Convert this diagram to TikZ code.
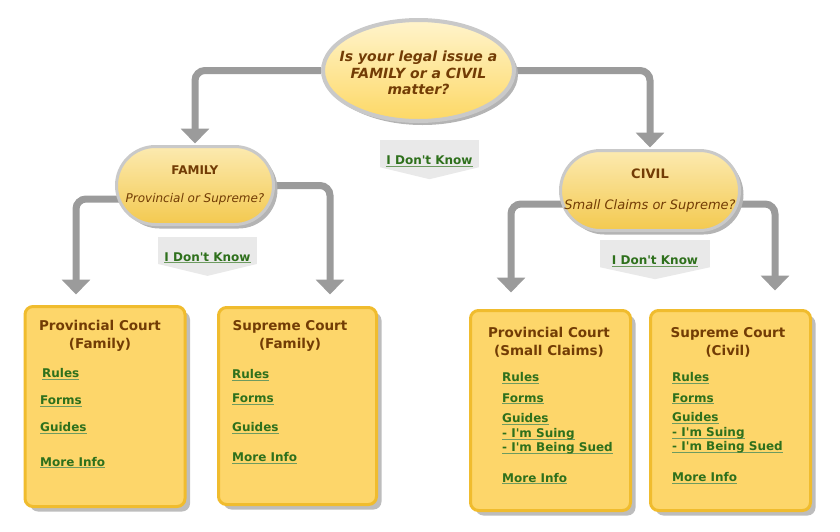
\documentclass[tikz,border=0pt]{standalone}
\usepackage{fontspec}
\setmainfont{DejaVu Sans}
\usetikzlibrary{shapes.geometric,shadows,arrows.meta,backgrounds}

\definecolor{flowgray}{HTML}{9B9B9B}
\definecolor{ringgray}{HTML}{C9C9C9}
\definecolor{shadegray}{HTML}{B4B4B4}
\definecolor{ellTop}{HTML}{FFF4CC}
\definecolor{ellBot}{HTML}{FDD865}
\definecolor{pillTop}{HTML}{FCEAB0}
\definecolor{pillBot}{HTML}{F3C94F}
\definecolor{boxFill}{HTML}{FDD66A}
\definecolor{boxLine}{HTML}{F0BC2E}
\definecolor{boxShadow}{HTML}{BDBDBD}
\definecolor{titleBrown}{HTML}{723C05}
\definecolor{linkGreen}{HTML}{2E701C}
\definecolor{dkFill}{HTML}{E9E9E9}

\newsavebox\lnkbox
\newcommand\lnk[1]{\sbox\lnkbox{#1}\rlap{\color{linkGreen!70!white}\rule[-2.3pt]{\wd\lnkbox}{1.2pt}}\usebox\lnkbox}

\begin{document}
\begin{tikzpicture}[x=1pt, y=-1pt,
    ask/.style={ellipse, draw=ringgray, line width=4pt, top color=ellTop, bottom color=ellBot,
      inner sep=0pt, minimum width=191pt, minimum height=101pt,
      drop shadow={shadow xshift=4pt, shadow yshift=-4pt, opacity=1, fill=shadegray}},
    question/.style={align=center, inner sep=0pt, text=titleBrown,
      font=\fontsize{14}{16.5}\selectfont\bfseries\itshape},
    pill/.style={rectangle, draw=ringgray, line width=3pt, top color=pillTop, bottom color=pillBot,
      inner sep=0pt, align=center, text=titleBrown,
      drop shadow={shadow xshift=4pt, shadow yshift=-4pt, opacity=1, fill=shadegray}},
    court/.style={rectangle, rounded corners=8pt, draw=boxLine, line width=3pt, fill=boxFill,
      minimum width=160pt, minimum height=200pt,
      drop shadow={shadow xshift=5pt, shadow yshift=-5pt, opacity=1, fill=boxShadow}},
    title/.style={align=center, inner sep=0pt, text=titleBrown, font=\fontsize{13.5}{18}\selectfont\bfseries},
    link/.style={anchor=base west, inner sep=0pt, text=linkGreen, font=\fontsize{12}{14}\selectfont\bfseries},
    dunno/.style={fill=dkFill, inner ysep=0pt, minimum width=99pt, minimum height=27pt,
      text height=24.4pt, text depth=2.6pt, text=linkGreen, font=\fontsize{12}{14}\selectfont\bfseries},
    flow/.style={draw=flowgray, line width=7pt, rounded corners=10pt, -{Triangle[width=28pt, length=15pt]}}
  ]
  \useasboundingbox (0,0) rectangle (840,531);

  \node[ask] (ask) at (418.5,70.5) {};
  \node[question] (ask-q) at (418.5,73.2) {Is your legal issue a\\FAMILY or a CIVIL\\matter?};
  \node[pill, rounded corners=39pt, minimum width=157pt, minimum height=78pt, font=\fontsize{12}{14}\selectfont] (family) at (195,185.5)
    {\textbf{FAMILY}\\[14pt]\textit{Provincial or Supreme?}};
  \node[pill, rounded corners=40pt, minimum width=179pt, minimum height=80pt, font=\fontsize{13}{15}\selectfont] (civil) at (650,190.5)
    {\textbf{CIVIL}\\[16.8pt]\textit{Small Claims or Supreme?}};

  \node[dunno] (dk1) at (429.5,153.5) {\lnk{I Don\textquotesingle t Know}};
  \node[dunno] (dk2) at (207.5,250.2) {\lnk{I Don\textquotesingle t Know}};
  \node[dunno, minimum width=110pt] (dk3) at (655,253.5) {\lnk{I Don\textquotesingle t Know}};
  \fill[dkFill] (dk1.south west) -- (dk1.south east) -- ([yshift=-12pt]dk1.south) -- cycle;
  \fill[dkFill] (dk2.south west) -- (dk2.south east) -- ([yshift=-12pt]dk2.south) -- cycle;
  \fill[dkFill] (dk3.south west) -- (dk3.south east) -- ([yshift=-12pt]dk3.south) -- cycle;

  \node[court] (pf) at (105,406.5) {};
  \node[court, minimum width=158pt, minimum height=197pt] (sf) at (297.5,406) {};
  \node[court] (pc) at (550.5,410.5) {};
  \node[court] (sc) at (730.5,410.5) {};

  \node[title] (pf-t) at (100,336) {Provincial Court\\(Family)};
  \node[title] (sf-t) at (290,336) {Supreme Court\\(Family)};
  \node[title] (pc-t) at (549,342) {Provincial Court\\(Small Claims)};
  \node[title] (sc-t) at (728,342) {Supreme Court\\(Civil)};

  \node[link] (pf-rules) at (42,377.4) {\lnk{Rules}};
  \node[link] (pf-forms) at (40,404.4) {\lnk{Forms}};
  \node[link] (pf-guides) at (40,431.4) {\lnk{Guides}};
  \node[link] (pf-more) at (40,466) {\lnk{More Info}};

  \node[link] (sf-rules) at (232,378.4) {\lnk{Rules}};
  \node[link] (sf-forms) at (232,402.4) {\lnk{Forms}};
  \node[link] (sf-guides) at (232,431.4) {\lnk{Guides}};
  \node[link] (sf-more) at (232,461.4) {\lnk{More Info}};

  \node[link] (pc-rules) at (502,381.4) {\lnk{Rules}};
  \node[link] (pc-forms) at (502,402) {\lnk{Forms}};
  \node[link] (pc-guides) at (502,422.4) {\lnk{Guides}};
  \node[link] (pc-suing) at (502,437.4) {\lnk{- I\textquotesingle m Suing}};
  \node[link] (pc-sued) at (502,451.4) {\lnk{- I\textquotesingle m Being Sued}};
  \node[link] (pc-more) at (502,482) {\lnk{More Info}};

  \node[link] (sc-rules) at (672,381.4) {\lnk{Rules}};
  \node[link] (sc-forms) at (672,402) {\lnk{Forms}};
  \node[link] (sc-guides) at (672,421.4) {\lnk{Guides}};
  \node[link] (sc-suing) at (672,436.4) {\lnk{- I\textquotesingle m Suing}};
  \node[link] (sc-sued) at (672,450.4) {\lnk{- I\textquotesingle m Being Sued}};
  \node[link] (sc-more) at (672,481.4) {\lnk{More Info}};

  % 矢印を引く
  \begin{scope}[on background layer]
    \draw[flow, shorten >=1.5pt] (ask.west) -| (family.north);
    \draw[flow, shorten >=1.5pt] (ask.east) -| (civil.north);
    \draw[flow, shorten >=10.5pt] ([yshift=-13.5pt]family.center) -| ([xshift=-29pt]pf.north);
    \draw[flow, shorten >=11.5pt] (family.east) -| ([xshift=32.5pt]sf.north);
    \draw[flow, shorten >=16.5pt] ([yshift=-13.5pt]civil.center) -| ([xshift=-39.5pt]pc.north);
    \draw[flow, shorten >=18.5pt] ([yshift=-13.5pt]civil.center) -| ([xshift=44.5pt]sc.north);
  \end{scope}
\end{tikzpicture}
\end{document}
